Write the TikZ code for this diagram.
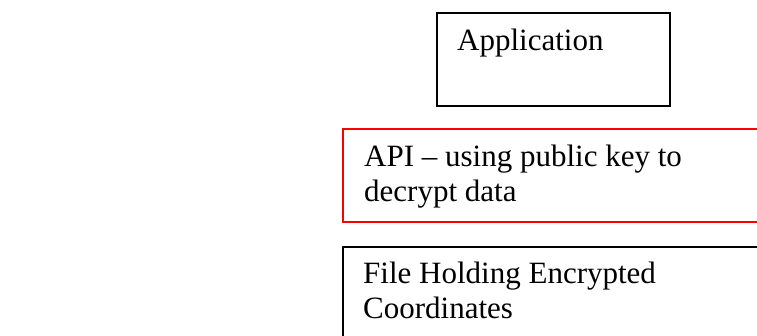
\documentclass[tikz,border=0pt]{standalone}
\usepackage{fontspec}
\setmainfont{Liberation Serif}
\begin{document}
\begin{tikzpicture}[x=1pt,y=-1pt,
  boxblack/.style={draw=black,line width=2pt},
  boxred/.style={draw=red,line width=2pt},
  lbl/.style={anchor=base west,inner sep=0pt,align=left,font=\fontsize{31}{35}\selectfont}]
\useasboundingbox (0,0) rectangle (757,336);
\clip (0,0) rectangle (757,336);
\fill[white] (0,0) rectangle (757,336);
% boxes
\draw[boxblack] (437,13) rectangle (670,106);
\coordinate (app) at (437,13);
\draw[boxred] (343,129) rectangle (780,222);
\coordinate (api) at (343,129);
\draw[boxblack] (343,247.5) rectangle (780,360);
\coordinate (file) at (343,247.5);
% labels (anchor = baseline of last line)
\node[lbl] (appt) at (457,50.5) {Application};
\node[lbl] (apit) at (364,201.5) {API – using public key to\\decrypt data};
\node[lbl] (filet) at (363,318.5) {File Holding Encrypted\\Coordinates};
\end{tikzpicture}
\end{document}
